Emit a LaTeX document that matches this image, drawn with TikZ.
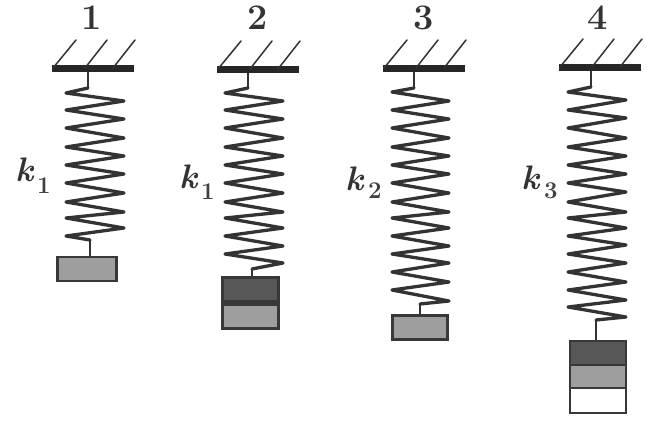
\documentclass[tikz,border=0pt]{standalone}
\usepackage{fontspec}
\tikzset{
  x=1pt,y=-1pt,
  wall/.style={draw=none,fill=black!85,inner sep=0pt,minimum height=7pt},
  hatch/.style={line width=1.5pt,draw=black!80,line cap=round},
  spr/.style={line width=3.3pt,draw=black!80,line join=round,line cap=round},
  stem/.style={line width=2.4pt,draw=black!80,line join=round},
  blk/.style={draw=black!78,line width=2.8pt,inner sep=0pt},
  midg/.style={blk,fill=black!38},
  darkg/.style={blk,fill=black!66},
  lightg/.style={blk,fill=white},
  num/.style={font=\fontsize{36}{38}\selectfont\bfseries,text=black!80,inner sep=0pt},
  kay/.style={font=\fontsize{34}{36}\selectfont\bfseries\itshape,text=black!80,inner sep=0pt},
  sub/.style={font=\fontsize{24}{26}\selectfont\bfseries,text=black!75,inner sep=0pt},
}
% #1 wall name, #2 left, #3 right, #4 y
\newcommand{\mywall}[4]{%
  \node[wall,minimum width=#3pt-#2pt] (#1) at ({(#2+#3)/2},#4) {};
  \draw[hatch] (#2+1,#4) -- (#2+24,#4-28);
  \draw[hatch] (#2+33,#4) -- (#2+55,#4-28);
  \draw[hatch] (#2+61,#4) -- (#2+83,#4-28);
}
\begin{document}
\begin{tikzpicture}
\useasboundingbox (0,0) rectangle (654,432);
% ---- 1
\node[num] (n1) at (92,18) {1};
\mywall{w1}{52}{134}{68}
\node[kay] (k1) at (25,170) {k};
\node[sub] (s1) at (44,186) {1};
\node[midg,minimum width=59pt,minimum height=24pt] (b1) at (87,269) {};
\coordinate (t1) at (88,88);
\coordinate (u1) at (90,240);
\draw[stem] (t1|-w1.south) -- (t1);
\draw[stem] (u1) -- (u1|-b1.north);
\draw[spr] (t1) -- (66,93) -- (124,101) -- (66,110) -- (124,119) -- (66,128) -- (124,138) -- (66,147) -- (124,156) -- (66,165) -- (124,174) -- (66,183) -- (124,193) -- (66,202) -- (124,212) -- (66,218) -- (124,228) -- (66,236) -- (u1);
% ---- 2
\node[num] (n2) at (258,18) {2};
\mywall{w2}{217}{299}{69}
\node[kay] (k2) at (189,177) {k};
\node[sub] (s2) at (208,192) {1};
\node[darkg,minimum width=56pt,minimum height=24pt,anchor=south] (b2a) at (250.5,303) {};
\node[midg,minimum width=56pt,minimum height=24pt,anchor=north] (b2b) at (250.5,303) {};
\coordinate (t2) at (248,88);
\coordinate (u2) at (252,269);
\draw[stem] (t2|-w2.south) -- (t2);
\draw[stem] (u2) -- (u2|-b2a.north);
\draw[spr] (t2) -- (225,93) -- (283,101) -- (225,110) -- (283,119) -- (225,128) -- (283,138) -- (225,147) -- (283,156) -- (225,165) -- (283,174) -- (225,183) -- (283,193) -- (225,202) -- (283,212) -- (225,218) -- (283,228) -- (225,236) -- (283,246) -- (225,254) -- (283,263) -- (u2);
% ---- 3
\node[num] (n3) at (424,18) {3};
\mywall{w3}{383}{465}{68}
\node[kay] (k3) at (355,179) {k};
\node[sub] (s3) at (375,191) {2};
\node[midg,minimum width=55pt,minimum height=24pt] (b3) at (420,327.5) {};
\coordinate (t3) at (414,88);
\coordinate (u3) at (420,304);
\draw[stem] (t3|-w3.south) -- (t3);
\draw[stem] (u3) -- (u3|-b3.north);
\draw[spr] (t3) -- (392,92) -- (449,101) -- (392,110) -- (449,119) -- (392,128) -- (449,138) -- (392,147) -- (449,156) -- (392,165) -- (449,174) -- (392,183) -- (449,193) -- (392,202) -- (449,212) -- (392,218) -- (449,228) -- (392,236) -- (449,246) -- (392,254) -- (449,263) -- (392,272) -- (449,282) -- (392,290) -- (449,301) -- (u3);
% ---- 4
\node[num] (n4) at (598,18) {4};
\mywall{w4}{559}{641}{67}
\node[kay] (k4) at (531,178) {k};
\node[sub] (s4) at (551,191) {3};
\node[darkg,minimum width=56pt,minimum height=24pt] (b4a) at (598,353) {};
\node[midg,minimum width=56pt,minimum height=23pt] (b4b) at (598,376.5) {};
\node[lightg,minimum width=56pt,minimum height=25pt] (b4c) at (598,400.5) {};
\coordinate (t4) at (591,87);
\coordinate (u4) at (596,320);
\draw[stem] (t4|-w4.south) -- (t4);
\draw[stem] (u4) -- (u4|-b4a.north);
\draw[spr] (t4) -- (568,92) -- (626,100) -- (568,110) -- (626,118) -- (568,128) -- (626,138) -- (568,147) -- (626,156) -- (568,165) -- (626,174) -- (568,183) -- (626,192) -- (568,202) -- (626,212) -- (568,218) -- (626,228) -- (568,236) -- (626,245) -- (568,254) -- (626,263) -- (568,272) -- (626,282) -- (568,290) -- (626,300) -- (568,307) -- (626,317) -- (u4);
\end{tikzpicture}
\end{document}
